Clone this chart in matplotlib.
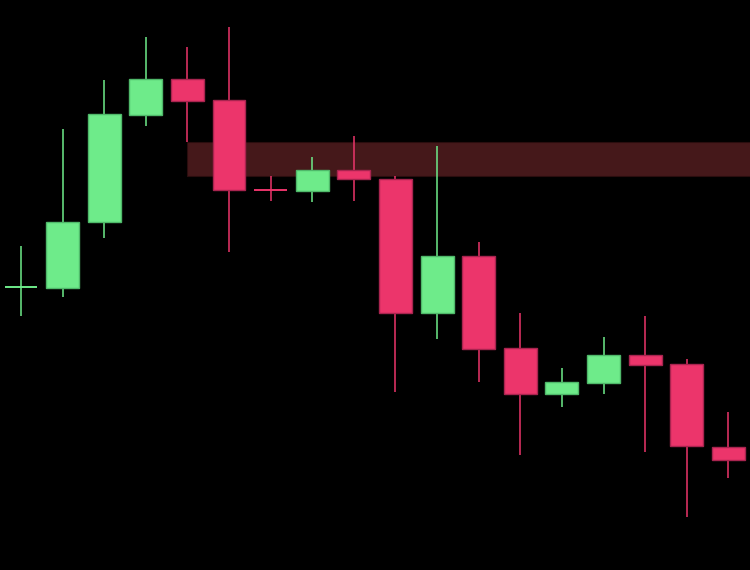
import matplotlib
matplotlib.use("Agg")
import matplotlib.pyplot as plt
from matplotlib.patches import Rectangle

opens  = [283, 282, 348, 455, 491, 470, 380, 379, 400, 391, 257, 314, 222, 176, 187, 215, 206, 123]
highs  = [324, 441, 490, 533, 523, 543, 394, 413, 434, 394, 424, 328, 257, 202, 233, 254, 211, 158]
lows   = [254, 273, 332, 444, 428, 318, 369, 368, 369, 178, 231, 188, 115, 163, 176, 118,  53,  92]
closes = [283, 348, 456, 491, 469, 380, 379.6, 400, 391, 257, 314, 221, 176, 188, 215, 205, 124, 110]

zone_start = 4
zone_low, zone_high = 394, 428

up_color = "#6eeb8a"
up_edge = "#4fb86a"
down_color = "#ec356b"
down_edge = "#a8244f"
zone_color = "#45181a"

fig = plt.figure(figsize=(7.5, 5.7), dpi=100, facecolor="black")
ax = fig.add_axes([0, 0, 1, 1])
ax.set_facecolor("black")
ax.set_axis_off()

n = len(opens)
ax.add_patch(Rectangle((zone_start, zone_low), n + 2 - zone_start, zone_high - zone_low,
                       facecolor=zone_color, edgecolor="#2a0d0e", linewidth=0.8, zorder=1))

width = 0.79
for i in range(n):
    o, h, l, c = opens[i], highs[i], lows[i], closes[i]
    up = c >= o
    fc = up_color if up else down_color
    ec = up_edge if up else down_edge
    ax.vlines(i, l, h, color=fc, linewidth=1.1, zorder=2)
    bottom = min(o, c)
    height = abs(c - o)
    ax.add_patch(Rectangle((i - width / 2, bottom), width, height,
                           facecolor=fc, edgecolor=fc if height < 2 else ec,
                           linewidth=1.0 if height >= 2 else 1.4, zorder=3))

ax.set_xlim(-0.505, 17.52)
ax.set_ylim(0, 570)

fig.savefig("out.png", dpi=100, facecolor="black")
